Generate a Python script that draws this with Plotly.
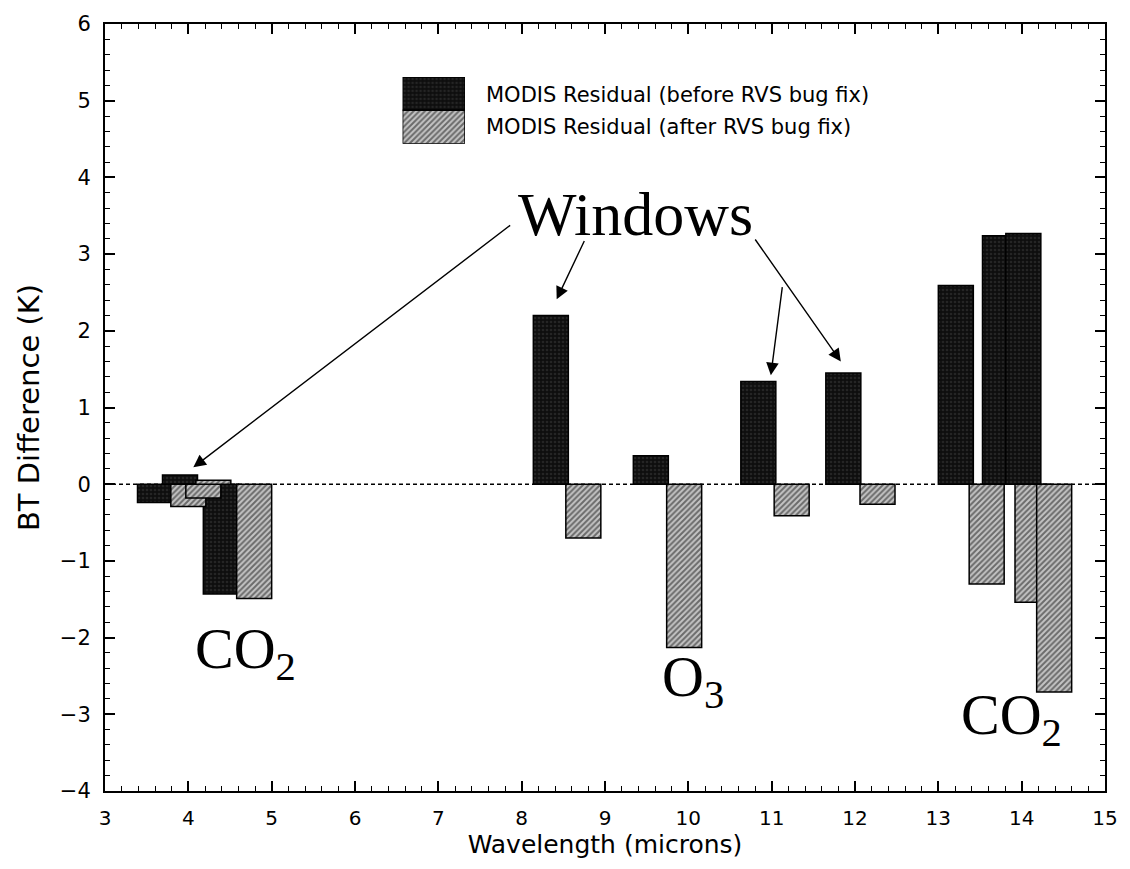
import plotly.graph_objects as go

# ---- data ----
before_name = "MODIS Residual (before RVS bug fix)"
after_name = "MODIS Residual (after RVS bug fix)"

before_x = [3.60, 3.90, 4.39, 8.35, 9.55, 10.84, 11.86, 13.21, 13.74, 14.02]
before_y = [-0.24, 0.12, -1.43, 2.20, 0.37, 1.34, 1.45, 2.59, 3.24, 3.27]

after_x = [4.00, 4.18, 4.30, 4.79, 8.74, 9.95, 11.24, 12.27, 13.58, 14.13, 14.39]
after_y = [-0.29, -0.18, 0.05, -1.49, -0.70, -2.13, -0.41, -0.26, -1.30, -1.54, -2.71]

x_ticks = list(range(3, 16))
y_ticks = list(range(-4, 7))

band_labels = ["CO<sub>2</sub>", "O<sub>3</sub>", "CO<sub>2</sub>"]
band_label_x = [4.68, 10.06, 13.88]
band_label_y = [-2.20, -2.56, -3.06]

windows_text = "Windows"
windows_pos = (9.37, 3.52)
# arrows: (tip_x, tip_y, tail_x, tail_y)
windows_arrows = [
    (4.06, 0.22, 7.88, 3.39),
    (8.42, 2.41, 8.76, 3.19),
    (10.99, 1.42, 11.13, 2.59),
    (11.83, 1.60, 10.79, 3.21),
]

SANS = "DejaVu Sans"
SERIF = "Liberation Serif"
BAR_W = 0.42

dark_marker = dict(
    color="#111111",
    line=dict(color="black", width=1.5),
    pattern=dict(shape=".", fgcolor="#3c3c3c", bgcolor="#0e0e0e", size=4, solidity=0.35),
)
hatch_marker = dict(
    color="#777777",
    line=dict(color="black", width=1.5),
    pattern=dict(shape="/", fgcolor="#111111", bgcolor="#c4c4c4", size=4, solidity=0.5),
)

fig = go.Figure()

fig.add_trace(go.Bar(
    x=before_x, y=before_y, width=[BAR_W] * len(before_x),
    name=before_name, marker=dark_marker, showlegend=False,
))
fig.add_trace(go.Bar(
    x=after_x, y=after_y, width=[BAR_W] * len(after_x),
    name=after_name, marker=hatch_marker, showlegend=False,
))

# legend key swatches (drawn on a small auxiliary axis)
fig.add_trace(go.Bar(
    x=[0], y=[1], base=[1], width=[1], marker=dark_marker,
    xaxis="x2", yaxis="y2", showlegend=False, hoverinfo="skip",
))
fig.add_trace(go.Bar(
    x=[0], y=[1], base=[0], width=[1], marker=hatch_marker,
    xaxis="x2", yaxis="y2", showlegend=False, hoverinfo="skip",
))

# zero line
fig.add_shape(type="line", xref="paper", x0=0, x1=1, yref="y", y0=0, y1=0,
              line=dict(color="black", width=1.4, dash="4px,3px"), layer="below")

axis_common = dict(
    showgrid=False, zeroline=False,
    showline=True, linecolor="black", linewidth=2, mirror="ticks",
    ticks="inside", ticklen=10, tickwidth=1.5, tickcolor="black",
)

fig.update_layout(
    width=1130, height=869,
    margin=dict(l=105, r=17, t=22, b=78),
    paper_bgcolor="white", plot_bgcolor="white",
    barmode="overlay",
    xaxis=dict(
        range=[3, 15], tickvals=x_ticks, ticktext=[str(v) for v in x_ticks],
        minor=dict(dtick=0.2, ticks="inside", ticklen=5, tickwidth=1.2, tickcolor="black"),
        title=dict(text="Wavelength (microns)", font=dict(family=SANS, size=25, color="black"), standoff=6),
        ticklabelstandoff=8,
        tickfont=dict(family=SANS, size=20, color="black"),
        **axis_common,
    ),
    yaxis=dict(
        range=[-4, 6], tickvals=y_ticks,
        minor=dict(dtick=0.2, ticks="inside", ticklen=5, tickwidth=1.2, tickcolor="black"),
        title=dict(text="BT Difference (K)", font=dict(family=SANS, size=29, color="black"), standoff=12),
        ticklabelstandoff=8,
        tickfont=dict(family=SANS, size=21, color="black"),
        **axis_common,
    ),
    xaxis2=dict(domain=[0.2976, 0.360], range=[-0.5, 0.5], visible=False, anchor="y2", fixedrange=True),
    yaxis2=dict(domain=[0.844, 0.931], range=[0, 2], visible=False, anchor="x2", fixedrange=True),
)

annotations = []
annotations.append(dict(xref="paper", yref="paper", x=0.379, y=0.9077, xanchor="left", yanchor="middle",
                        text=before_name, showarrow=False, font=dict(family=SANS, size=21, color="black")))
annotations.append(dict(xref="paper", yref="paper", x=0.379, y=0.866, xanchor="left", yanchor="middle",
                        text=after_name, showarrow=False, font=dict(family=SANS, size=21, color="black")))

annotations.append(dict(x=windows_pos[0], y=windows_pos[1], xref="x", yref="y", text=windows_text,
                        showarrow=False, font=dict(family=SERIF, size=62, color="black")))
for tx, ty, sx, sy in windows_arrows:
    annotations.append(dict(x=tx, y=ty, xref="x", yref="y", ax=sx, ay=sy, axref="x", ayref="y",
                            text="", showarrow=True, arrowhead=2, arrowsize=1.8, arrowwidth=1.4,
                            arrowcolor="black", standoff=0, startstandoff=0))

for t, lx, ly in zip(band_labels, band_label_x, band_label_y):
    annotations.append(dict(x=lx, y=ly, xref="x", yref="y", text=t, showarrow=False,
                            font=dict(family=SERIF, size=58, color="black")))

fig.update_layout(annotations=annotations)

fig.write_html("out.html")
